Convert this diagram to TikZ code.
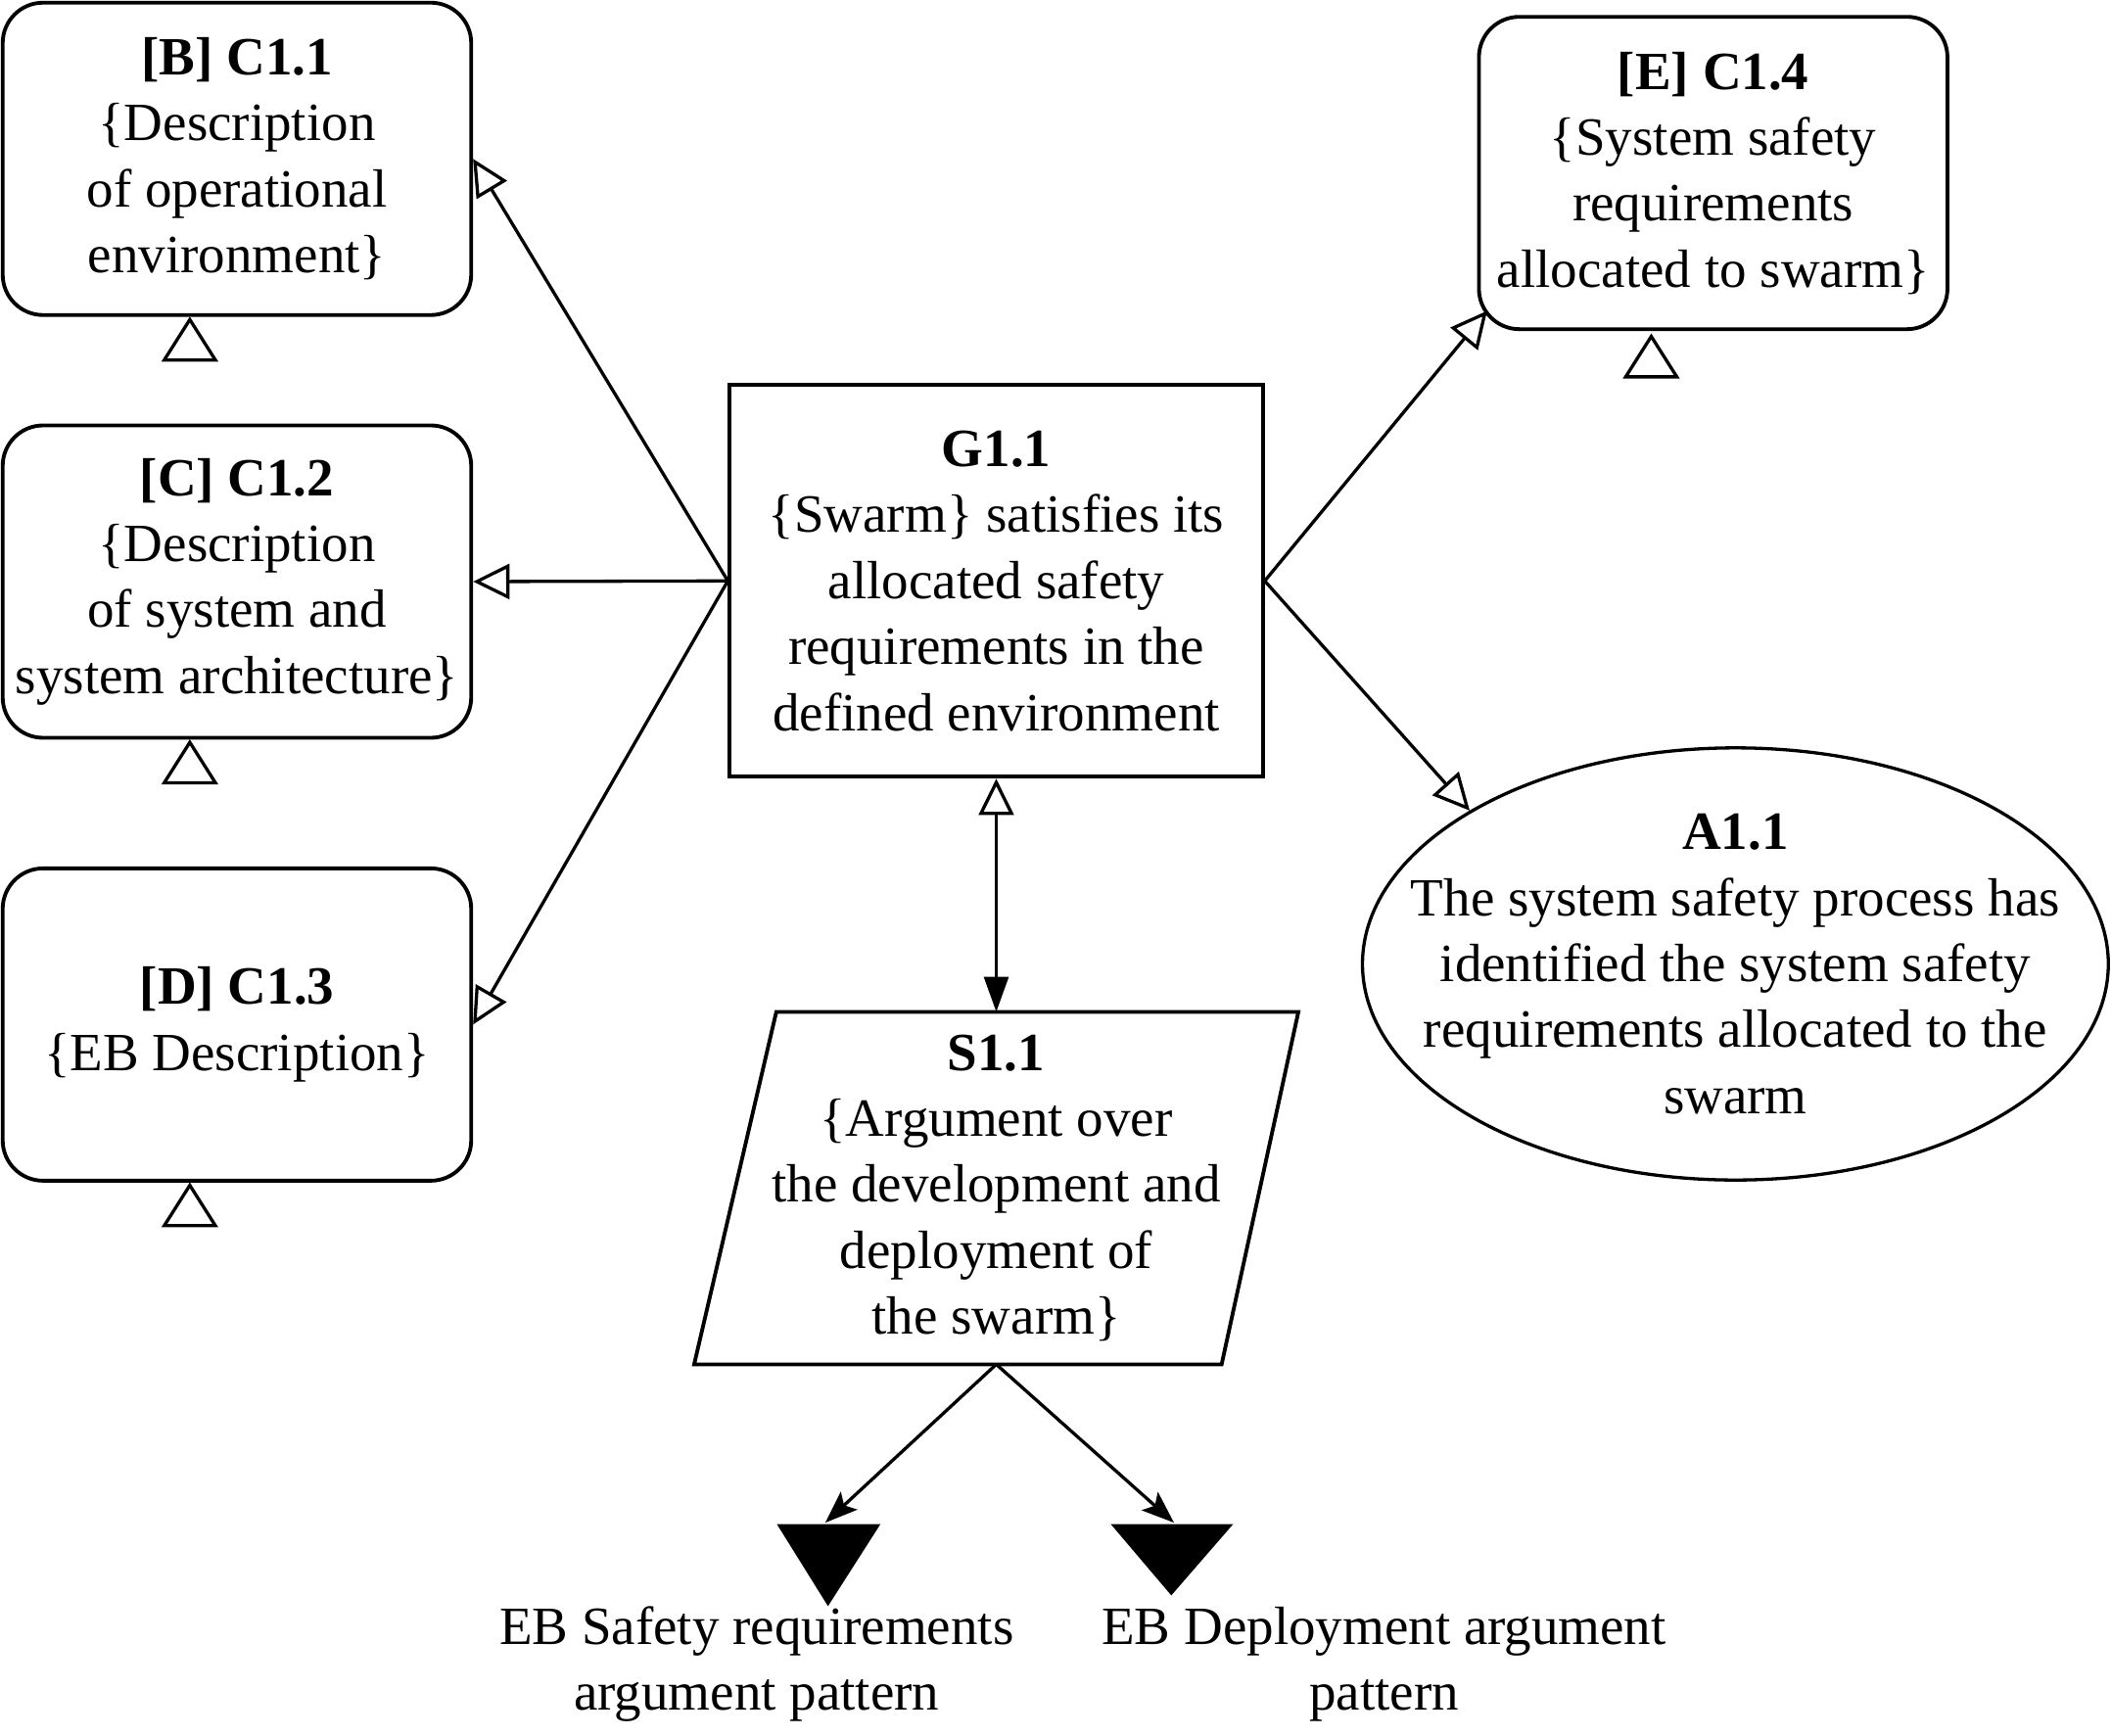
\documentclass[tikz,border=0pt]{standalone}
\usepackage{fontspec}
\setmainfont{Liberation Serif}
\usetikzlibrary{arrows.meta,shapes.geometric}
\begin{document}
\begin{tikzpicture}[x=0.5pt,y=-0.5pt,
  txt/.style={font=\fontsize{20}{24.5}\selectfont, align=center, inner sep=0pt},
  ctxbox/.style={txt, draw, line width=1.4pt, rounded corners=15pt, minimum width=174pt, minimum height=116pt},
  goalbox/.style={txt, draw, line width=1.4pt, minimum width=198pt, minimum height=145.5pt},
  assum/.style={draw, ellipse, line width=1.2pt, inner sep=0pt, minimum width=277pt, minimum height=160.5pt},
  strat/.style={txt, minimum width=224pt, minimum height=130.5pt},
  conn/.style={line width=1.2pt},
  openarr/.style={conn, -{Triangle[open, length=13.5pt, width=13pt, line width=1.2pt]}},
  ctxmark/.style={line width=1.2pt, line join=miter},
  undev/.style={fill=black}
]
\useasboundingbox (0,0) rectangle (1568,1289);

% context boxes
\node[ctxbox] (c11) at (176,118) {\textbf{[B] C1.1}\\\{Description\\of operational\\environment\}};
\node[ctxbox] (c12) at (176,432) {\textbf{[C] C1.2}\\\{Description\\of system and\\system architecture\}};
\node[ctxbox] (c13) at (176,761) {\textbf{[D] C1.3}\\\{EB Description\}};
\node[ctxbox] (c14) at (1272.5,128.5) {\textbf{[E] C1.4}\\\{System safety\\requirements\\allocated to swarm\}};

% context markers (small open triangles)
\draw[ctxmark] ([shift={(-35,2)}]c11.south) -- ++(19,30) -- ++(-38,0) -- cycle;
\draw[ctxmark] ([shift={(-35,2)}]c12.south) -- ++(19,30) -- ++(-38,0) -- cycle;
\draw[ctxmark] ([shift={(-35,2)}]c13.south) -- ++(19,30) -- ++(-38,0) -- cycle;
\draw[ctxmark] ([shift={(-46,4)}]c14.south) -- ++(19,30) -- ++(-38,0) -- cycle;

% goal
\node[goalbox] (g11) at (740,431.5) {\textbf{G1.1}\\\{Swarm\} satisfies its\\allocated safety\\requirements in the\\defined environment};

% assumption
\node[assum] (a11) at (1289,716) {};
\node[txt] (a11t) at (a11.center) {\textbf{A1.1}\\The system safety process has\\identified the system safety\\requirements allocated to the\\swarm};

% strategy
\node[strat] (s11) at (740,882.5) {\textbf{S1.1}\\\{Argument over\\the development and\\deployment of\\the swarm\}};
\draw[line width=1.4pt, line join=miter]
  ([shift={(61,0)}]s11.north west) -- (s11.north east)
  -- ([shift={(-57,0)}]s11.south east) -- (s11.south west) -- cycle;

% undeveloped patterns (black triangles)
\coordinate (p1) at (613,1131);
\coordinate (p2) at (872,1131);
\fill[undev] (577,1132) -- (654,1132) -- (615,1193) -- cycle;
\fill[undev] (825,1132) -- (916,1132) -- (870,1185) -- cycle;

\node[txt] (l1) at (562,1236) {EB Safety requirements\\argument pattern};
\node[txt] (l2) at (1028,1236) {EB Deployment argument\\pattern};

% connectors
\draw[openarr] (g11.west) -- (c11.east);
\draw[openarr] (g11.west) -- (c12.east);
\draw[openarr] (g11.west) -- (c13.east);
\draw[openarr] (g11.east) -- ([shift={(7.5,-15)}]c14.south west);
\draw[openarr] (g11.east) -- (a11.150);
\draw[conn, {Triangle[open, length=13.5pt, width=13pt, line width=1.2pt]}-{Triangle[length=13pt, width=9pt]}] (g11.south) -- (s11.north);
\draw[conn, -{Stealth[length=12pt, width=9pt, inset=2.5pt]}] (s11.south) -- (p1);
\draw[conn, -{Stealth[length=12pt, width=9pt, inset=2.5pt]}] (s11.south) -- (p2);
\end{tikzpicture}
\end{document}
